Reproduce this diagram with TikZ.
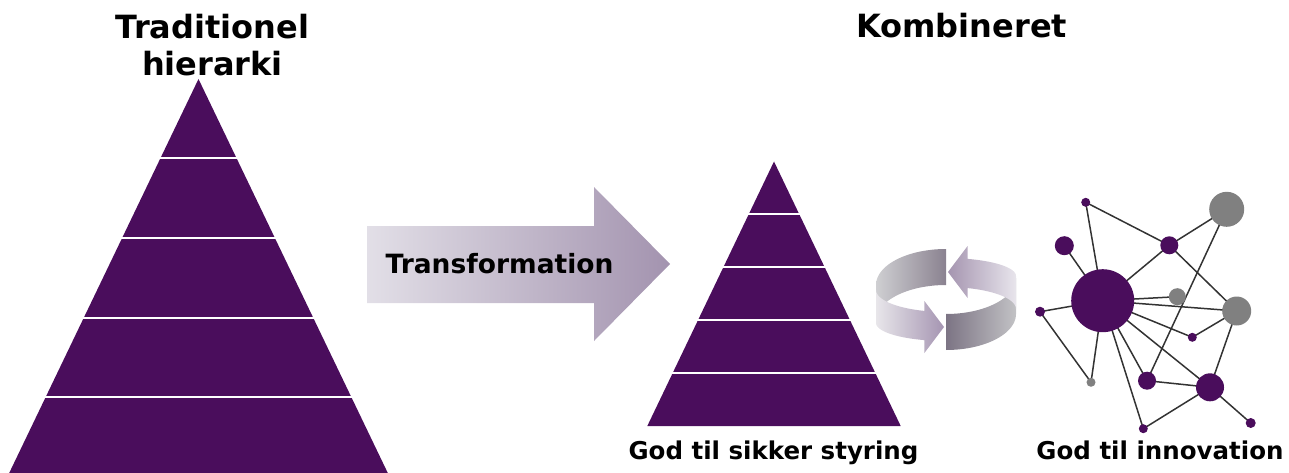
\documentclass[tikz,border=0pt]{standalone}
\usepackage{fontspec}
\setmainfont{DejaVu Sans}
\usetikzlibrary{backgrounds}
\definecolor{purp}{HTML}{4A0D5C}
\definecolor{gcirc}{HTML}{808080}
\definecolor{edgec}{HTML}{333333}
\definecolor{arrL}{HTML}{E2DFE7}
\definecolor{arrR}{HTML}{A393AF}
\definecolor{tlA}{HTML}{CFCFD2}
\definecolor{tlB}{HTML}{8A8290}
\definecolor{blA}{HTML}{E8E6EA}
\definecolor{blB}{HTML}{A595B2}
\definecolor{trA}{HTML}{A595B0}
\definecolor{trB}{HTML}{E8E5EC}
\definecolor{brA}{HTML}{7C7484}
\definecolor{brB}{HTML}{C2C2C5}
\tikzset{
  titletext/.style={font=\bfseries\fontsize{32}{37}\selectfont, inner sep=0pt},
  labeltext/.style={font=\bfseries\fontsize{24.5}{29}\selectfont, inner sep=0pt, anchor=base},
  pn/.style={circle, fill=purp, inner sep=0pt, minimum size=#1},
  gn/.style={circle, fill=gcirc, inner sep=0pt, minimum size=#1},
  link/.style={draw=edgec, line width=1.5pt},
  sep/.style={draw=white, line width=2pt},
}
\begin{document}
\begin{tikzpicture}[x=1pt,y=-1pt]
\useasboundingbox (0,0) rectangle (1289,473);
\clip (0,0) rectangle (1289,473);

% titles
\node[titletext, anchor=north, align=center] (t1) at (212.5,13.5) {Traditionel\\hierarki};
\node[titletext, anchor=base] (t2) at (961.7,38) {Kombineret};

% big pyramid
\fill[purp] (198.5,79) -- (390.2,478) -- (6.8,478) -- cycle;
\foreach \yy in {158.5,238,317.5,397}
  \draw[sep] ({198.5-0.48*(\yy-79)-1},\yy) -- ({198.5+0.48*(\yy-79)+1},\yy);

% transformation arrow
\shade[left color=arrL, right color=arrR]
  (367,226) -- (594,226) -- (594,187) -- (670,264) -- (594,341) -- (594,303) -- (367,303) -- cycle;
\node[font=\bfseries\fontsize{26.5}{30}\selectfont, inner sep=0pt, anchor=base] (tr) at (499.5,273.3) {Transformation};

% small pyramid
\fill[purp] (774,161.5) -- (900.7,426) -- (647.3,426) -- cycle;
\foreach \yy in {214.4,267.3,320.2,373.1}
  \draw[sep] ({774-0.479*(\yy-161.5)-1},\yy) -- ({774+0.479*(\yy-161.5)+1},\yy);
\node[labeltext] (l1) at (773.5,459) {God til sikker styring};

% cycle arrows (twisted ribbon)
\shade[left color=tlA, right color=tlB]
  plot[domain=90:180,samples=30] ({946+70*cos(\x)},{285-36*sin(\x)})
  -- plot[domain=180:90,samples=30] ({946+70*cos(\x)},{321-36*sin(\x)}) -- cycle;
\shade[left color=brA, right color=brB]
  plot[domain=270:360,samples=30] ({946+70*cos(\x)},{314-36*sin(\x)})
  -- plot[domain=360:270,samples=30] ({946+70*cos(\x)},{278-36*sin(\x)}) -- cycle;
\shade[left color=blA, right color=blB]
  plot[domain=180:252,samples=30] ({946+70*cos(\x)},{290-22*sin(\x)})
  -- (924.4,301) -- (944,327) -- (924.4,353)
  -- plot[domain=252:180,samples=30] ({946+70*cos(\x)},{323-18*sin(\x)}) -- cycle;
\shade[left color=trA, right color=trB]
  plot[domain=0:72,samples=30] ({946+70*cos(\x)},{309-22*sin(\x)})
  -- (967.6,298) -- (948,272) -- (967.6,246)
  -- plot[domain=72:0,samples=30] ({946+70*cos(\x)},{276-18*sin(\x)}) -- cycle;

% network
\node[pn=9pt]  (A) at (1085.7,202.3) {};
\node[gn=35pt] (B) at (1226.7,209.3) {};
\node[pn=19pt] (C) at (1064.3,245.7) {};
\node[pn=18pt] (D) at (1169.3,245.3) {};
\node[pn=63pt] (E) at (1102.7,300.7) {};
\node[gn=17pt] (F) at (1177.3,296.7) {};
\node[gn=29pt] (G) at (1236.7,311) {};
\node[pn=10pt] (H) at (1040,311.7) {};
\node[pn=9pt]  (I) at (1192.3,337.3) {};
\node[gn=9pt]  (J) at (1091,382.3) {};
\node[pn=18pt] (K) at (1147,380.7) {};
\node[pn=28pt] (L) at (1210,387.3) {};
\node[pn=9pt]  (M) at (1143.3,428.7) {};
\node[pn=10pt] (N) at (1250.7,423) {};
\begin{scope}[on background layer]
\foreach \a/\b in {A/D,D/G,A/E,D/B,D/E,C/E,E/F,E/H,H/J,E/J,E/G,E/I,E/K,E/L,E/M,B/K,G/I,G/L,K/L,L/M,L/N}
  \draw[link] (\a.center) -- (\b.center);
\end{scope}
\node[labeltext] (l2) at (1160,459) {God til innovation};
\end{tikzpicture}
\end{document}
